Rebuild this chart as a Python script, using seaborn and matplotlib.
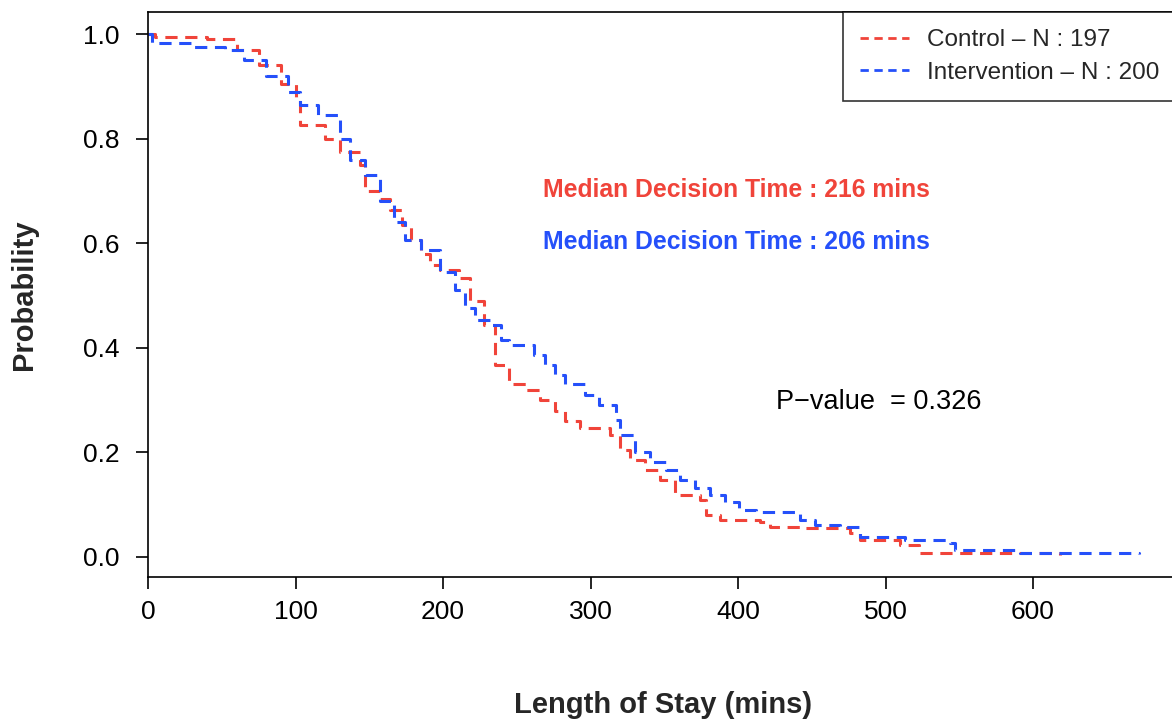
import numpy as np
import pandas as pd
import seaborn as sb
import matplotlib.pyplot as plt
from matplotlib.lines import Line2D

# step curves (time in mins, survival probability)
ctrl_time = [0, 5, 40, 60, 75, 90, 100, 103, 120, 130, 144, 147, 157, 164, 172, 178, 185,
             191, 198, 211, 218, 228, 235, 245, 256, 266, 276, 283, 293, 313, 320, 327,
             337, 347, 357, 374, 378, 388, 415, 422, 442, 476, 483, 510, 523, 618]
ctrl_surv = [1.0, 0.995, 0.99, 0.97, 0.94, 0.905, 0.87, 0.826, 0.80, 0.775, 0.75, 0.70,
             0.685, 0.663, 0.635, 0.606, 0.58, 0.558, 0.549, 0.533, 0.49, 0.444, 0.367,
             0.33, 0.32, 0.30, 0.28, 0.26, 0.247, 0.233, 0.205, 0.185, 0.166, 0.147,
             0.118, 0.109, 0.08, 0.071, 0.067, 0.057, 0.055, 0.046, 0.033, 0.023, 0.008, 0.004]

int_time = [0, 3, 30, 52, 65, 80, 95, 103, 115, 130, 137, 147, 157, 167, 174, 185, 198,
            208, 215, 222, 232, 239, 245, 262, 269, 276, 283, 296, 306, 317, 320, 330,
            340, 351, 361, 371, 381, 391, 401, 412, 442, 452, 469, 483, 513, 544, 547,
            591, 672]
int_surv = [1.0, 0.983, 0.975, 0.97, 0.95, 0.92, 0.89, 0.865, 0.845, 0.80, 0.76, 0.73,
            0.68, 0.64, 0.606, 0.587, 0.545, 0.51, 0.476, 0.453, 0.444, 0.415, 0.405,
            0.386, 0.367, 0.348, 0.33, 0.31, 0.29, 0.262, 0.233, 0.20, 0.182, 0.166,
            0.147, 0.132, 0.118, 0.105, 0.09, 0.086, 0.071, 0.061, 0.057, 0.038, 0.033,
            0.027, 0.013, 0.008, 0.005]

groups = ["Control - N : 197", "Intervention - N : 200"]
legend_labels = ["Control \u2013 N : 197", "Intervention \u2013 N : 200"]
median_text = ["Median Decision Time : 216 mins", "Median Decision Time : 206 mins"]
pval_text = "P\u2212value  = 0.326"

red = "#f0443a"
blue = "#2550fa"

df = pd.concat([
    pd.DataFrame({"time": ctrl_time, "surv": ctrl_surv, "group": groups[0]}),
    pd.DataFrame({"time": int_time, "surv": int_surv, "group": groups[1]}),
])

sb.set_style("ticks")
plt.rcParams['font.family'] = ['Liberation Sans', 'DejaVu Sans']

fig = plt.figure(figsize=(11.72, 7.21), dpi=100)
ax = fig.add_axes([148/1172, 1-577/721, (1195-148)/1172, (577-12)/721])

sb.lineplot(data=df, x="time", y="surv", hue="group", style="group",
            palette={groups[0]: red, groups[1]: blue},
            dashes={groups[0]: (4, 2.5), groups[1]: (4, 2.5)},
            drawstyle="steps-post", estimator=None, sort=False, linewidth=2.2,
            legend=False, ax=ax)

ax.set_xlim(0, (1195-148)/1.475)
ax.set_ylim((557-577)/523, (557-12)/523)
ax.set_xticks([0, 100, 200, 300, 400, 500, 600])
ax.set_yticks([0.0, 0.2, 0.4, 0.6, 0.8, 1.0])
ax.set_yticklabels(["0.0", "0.2", "0.4", "0.6", "0.8", "1.0"])
ax.tick_params(axis="both", labelsize=19, length=8.5, width=1.2, colors="black")
ax.tick_params(axis="x", pad=8)
ax.tick_params(axis="y", pad=12)
for s in ["left", "bottom", "top"]:
    ax.spines[s].set_linewidth(1.2)
    ax.spines[s].set_color("black")
ax.spines["right"].set_visible(False)
ax.set_xlabel("")
ax.set_ylabel("")

fig.text(663/1172, 1-705/721, "Length of Stay (mins)", fontsize=21, fontweight="bold",
         ha="center", va="center")
fig.text(24/1172, 1-295/721, "Probability", fontsize=21, fontweight="bold",
         ha="center", va="center", rotation=90)

ax.text(268, (557-190)/523, median_text[0], color=red, fontsize=17.8, fontweight="bold",
        ha="left", va="center")
ax.text(268, (557-242)/523, median_text[1], color=blue, fontsize=17.8, fontweight="bold",
        ha="left", va="center")
ax.text(426, (557-402)/523, pval_text, color="black", fontsize=19.5, ha="left", va="center")

handles = [Line2D([0], [0], color=red, lw=2, dashes=(3, 2)),
           Line2D([0], [0], color=blue, lw=2, dashes=(3, 2))]
leg = fig.legend(handles, legend_labels, loc="upper left",
                 bbox_to_anchor=(843/1172, 1-12/721), fontsize=17.5, frameon=True,
                 fancybox=False, handlelength=2.0, borderpad=0.7, labelspacing=0.45,
                 handletextpad=0.75, borderaxespad=0)
leg.get_frame().set_edgecolor("black")
leg.get_frame().set_linewidth(1.2)

fig.savefig("out.png", dpi=100)
